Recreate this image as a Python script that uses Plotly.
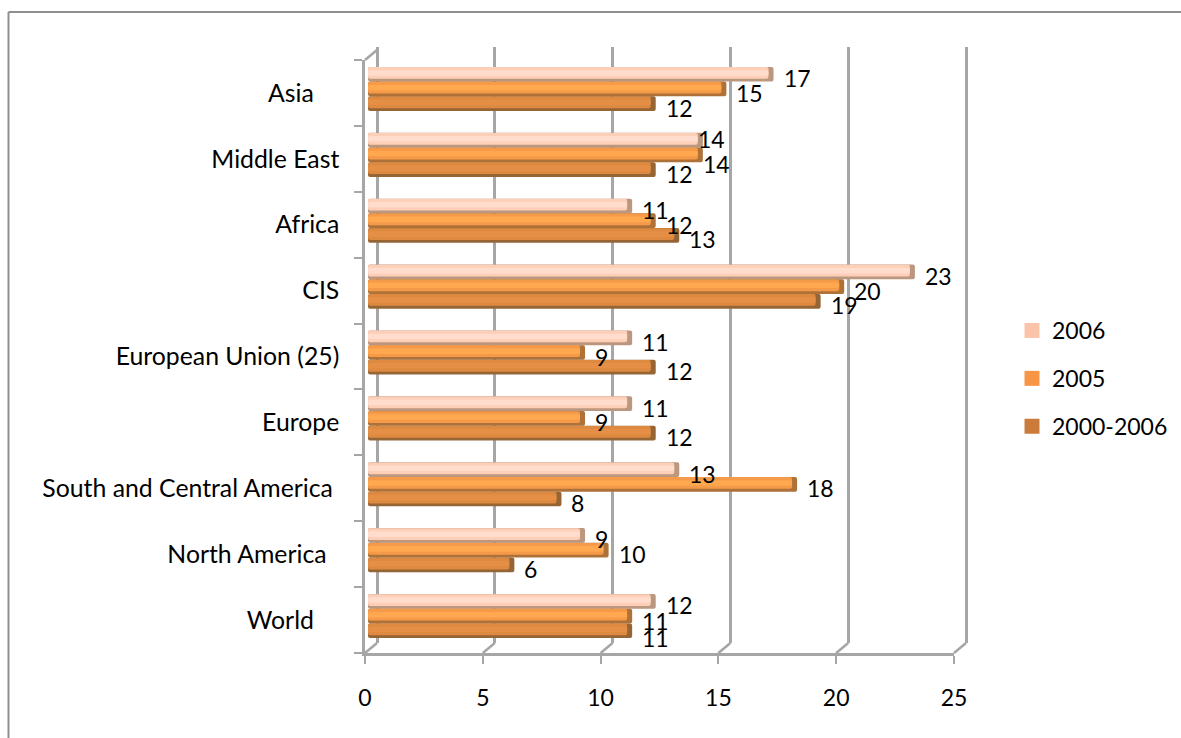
import plotly.graph_objects as go

W, H = 1181, 738

categories = ["World", "North America", "South and Central America", "Europe",
              "European Union (25)", "CIS", "Africa", "Middle East", "Asia"]
pad = [4, 2, 1, 0, 0, 0, 0, 0, 4]
v2006 = [12, 9, 13, 11, 11, 23, 11, 14, 17]
v2005 = [11, 10, 18, 9, 9, 20, 12, 14, 15]
v2000 = [11, 6, 8, 12, 12, 19, 13, 12, 12]
ticks = [0, 5, 10, 15, 20, 25]

series = [
    ("2006", v2006, "#FBC4AA", "#FDCFB8", "#FFDCCB", "#BC9780"),
    ("2005", v2005, "#F79646", "#F59A48", "#FFA850", "#AE7238"),
    ("2000-2006", v2000, "#CB7C3A", "#DD893F", "#E48F45", "#966536"),
]

# labels the reference has hand-placed (dx, dy in pixels, by series and category)
nudges = {("2006", "Middle East"): (-15, 5), ("2005", "Middle East"): (-10, -5),
          ("2005", "World"): (0, -1), ("2000-2006", "World"): (0, -3)}

FONT = "Lato, Carlito, Calibri, sans-serif"
FS = 23
GREY = "#A6A6A6"
PXU = (954 - 365) / 25.0  # pixels per value unit


def hdom(a, b):
    return [a / W, b / W]


def vdom(top, bottom):
    return [1 - bottom / H, 1 - top / H]


fig = go.Figure()

# invisible trace to give the back wall its gridlines (first subplot = lowest layer)
fig.add_trace(go.Scatter(x=[0], y=[0], xaxis="x", yaxis="y", mode="markers",
                         marker=dict(opacity=0), showlegend=False, hoverinfo="skip"))

BAR_H = 14.7 / 65.9
tip = 5 / PXU
for k, (name, vals, leg, body, light, dark) in enumerate(series):
    ypos = [i + (1 - k) * BAR_H for i in range(len(categories))]
    fig.add_trace(go.Bar(x=[v + tip for v in vals], y=ypos, base=0, width=BAR_H, orientation="h",
                         xaxis="x2", yaxis="y2", marker=dict(color=dark, line_width=0),
                         showlegend=False, hoverinfo="skip"))
    shift = 0.02
    fig.add_trace(go.Bar(x=vals, y=[p + shift for p in ypos], base=0, width=BAR_H * 0.8,
                         orientation="h", xaxis="x2", yaxis="y2",
                         marker=dict(color=body, line_width=0),
                         showlegend=False, hoverinfo="skip"))
    fig.add_trace(go.Bar(x=vals, y=[p + shift for p in ypos], base=0, width=BAR_H * 0.38,
                         orientation="h", xaxis="x2", yaxis="y2",
                         marker=dict(color=light, line_width=0),
                         showlegend=False, hoverinfo="skip"))
    for v, p, c in zip(vals, ypos, categories):
        dx, dy = nudges.get((name, c), (0, 0))
        fig.add_annotation(x=v, y=p, xref="x2", yref="y2", text=str(v), showarrow=False,
                           xanchor="left", yanchor="middle", xshift=13 + dx, yshift=-4 + dy,
                           font=dict(family=FONT, size=FS, color="#000000"))
    fig.add_trace(go.Scatter(x=[None], y=[None], xaxis="x3", yaxis="y3", mode="markers", name=name,
                             marker=dict(symbol="square", size=15, color=leg),
                             legendgroup=name, hoverinfo="skip"))

# front axes, and the category labels
fig.add_trace(go.Scatter(x=[0] * len(categories), y=categories, xaxis="x3", yaxis="y3", mode="markers",
                         marker=dict(opacity=0), showlegend=False, hoverinfo="skip"))

noax = dict(showticklabels=False, showline=False, zeroline=False, ticks="", showgrid=False)
fig.update_layout(
    width=W, height=H, autosize=False,
    margin=dict(l=0, r=0, t=0, b=0, autoexpand=False),
    paper_bgcolor="white", plot_bgcolor="rgba(0,0,0,0)",
    barmode="overlay", barcornerradius=2, showlegend=True,
    font=dict(family=FONT, size=FS, color="#000000"),
    # back wall gridlines: 0 sits 12px right of the front axis; domain overshoots so end lines are kept
    xaxis=dict(domain=hdom(371, 975), range=[-6 / PXU, 598 / PXU], tickmode="array", tickvals=ticks,
               showgrid=True, gridcolor=GREY, gridwidth=3, showticklabels=False,
               showline=False, zeroline=False, ticks="", anchor="y"),
    yaxis=dict(domain=vdom(47, 643), range=[0, 1], anchor="x", **noax),
    # bars
    xaxis2=dict(domain=hdom(368, 967), range=[0, 599 / PXU], anchor="y2", **noax),
    yaxis2=dict(domain=vdom(56, 649), range=[-0.5, 8.5], anchor="x2", **noax),
    # front axes
    xaxis3=dict(domain=hdom(365, 954), range=[0, 25], anchor="y3", tickmode="array", tickvals=ticks,
                showline=True, linecolor=GREY, linewidth=2.5, ticks="outside", ticklen=8, tickwidth=2,
                tickcolor=GREY, showgrid=False, zeroline=False, ticklabelstandoff=15,
                tickfont=dict(family=FONT, size=FS)),
    yaxis3=dict(domain=vdom(60, 653), type="category", categoryarray=categories,
                categoryorder="array", range=[-0.5, 8.5], anchor="x3", showline=True, linecolor=GREY,
                linewidth=2.5, ticks="outside", ticklen=8, tickwidth=2, tickcolor=GREY,
                tickson="boundaries", showgrid=False, zeroline=False, ticklabelstandoff=18,
                tickmode="array", tickvals=categories,
                ticktext=[c + "\u00a0" * n for c, n in zip(categories, pad)],
                tickfont=dict(family=FONT, size=24.8)),
    legend=dict(x=1012 / W, y=1 - 309 / H, xanchor="left", yanchor="top", bgcolor="rgba(0,0,0,0)",
                traceorder="grouped", tracegroupgap=15, itemclick=False, itemdoubleclick=False,
                font=dict(family=FONT, size=FS)),
)

# chart frame (top and left edges only) and the 3D floor / corner links, derived from the tick values
FRAME = dict(color="#8F8F8F", width=2)
shapes = [
    dict(type="line", xref="paper", yref="paper", x0=8.5 / W, x1=1, y0=1 - 12 / H, y1=1 - 12 / H,
         line=FRAME, layer="below"),
    dict(type="line", xref="paper", yref="paper", x0=8.5 / W, x1=8.5 / W, y0=0, y1=1 - 12 / H,
         line=FRAME, layer="below"),
]
for t in ticks:
    xf = 365 + t * PXU
    shapes.append(dict(type="line", xref="paper", yref="paper", x0=xf / W, x1=(xf + 12) / W,
                       y0=1 - 653 / H, y1=1 - 643 / H, line=dict(color=GREY, width=2.5), layer="below"))
shapes.append(dict(type="line", xref="paper", yref="paper", x0=365 / W, x1=377 / W,
                   y0=1 - 60 / H, y1=1 - 50 / H, line=dict(color=GREY, width=2.5), layer="below"))
fig.update_layout(shapes=shapes)

fig.write_html("out.html", config=dict(displayModeBar=False),
               post_script="document.body.style.margin='0';")
